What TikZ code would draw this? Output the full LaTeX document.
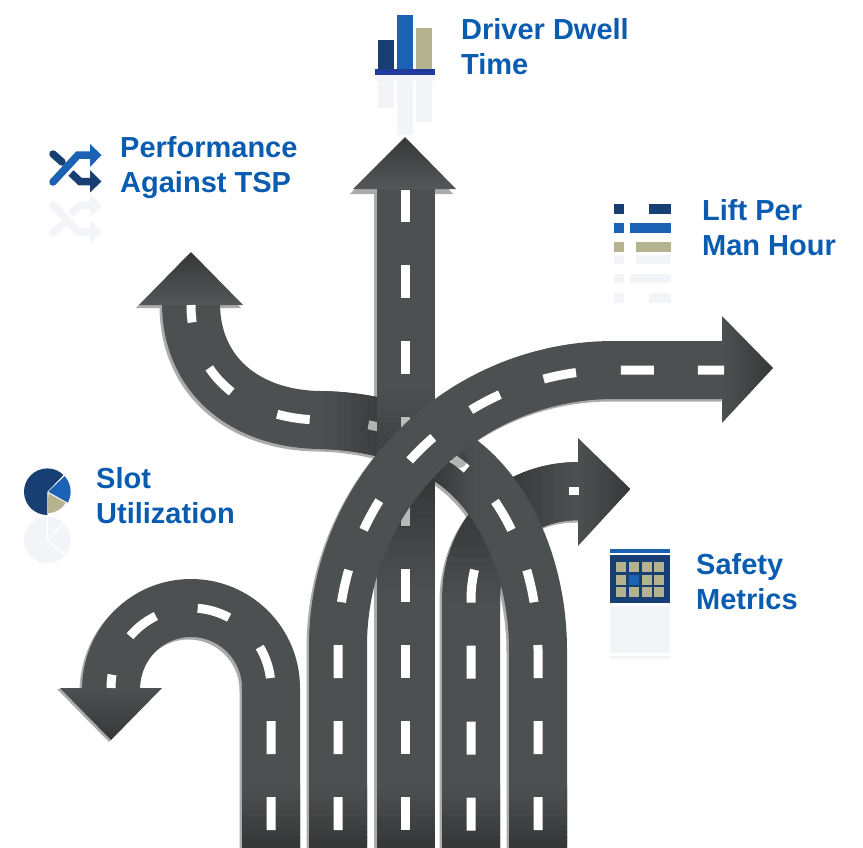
\documentclass[tikz,border=0pt]{standalone}
\usepackage{fontspec}
\setmainfont{Liberation Sans}
\definecolor{roadc}{HTML}{4D5051}
\definecolor{darkc}{HTML}{363838}
\definecolor{edgec}{HTML}{ABABAB}
\definecolor{navyc}{HTML}{173F73}
\definecolor{bluec}{HTML}{1B62B4}
\definecolor{khakic}{HTML}{B5B28F}
\definecolor{basec}{HTML}{1F3C9C}
\definecolor{ghostc}{HTML}{F3F4F8}
\definecolor{textc}{HTML}{0A5CB0}
\tikzset{
  road/.style={line width=58pt,draw=roadc},
  roadedge/.style={line width=58pt,draw=edgec,shift={(-2.5,2.5)}},
  lane/.style={line width=9pt,draw=white},
  label/.style={anchor=north west,inner sep=0pt,align=left,text=textc,font=\fontsize{29}{35}\selectfont\bfseries}
}
% paths
\def\Rpath{(471,860) -- (471,600) .. controls (471,540) and (510,491) .. (580,491)}
\def\Upath{(271,860) -- (271,688) .. controls (271,643.8) and (235.2,608) .. (191,608) .. controls (146.8,608) and (111,643.8) .. (111,690)}
\def\Spath{(538,860) -- (538,650) .. controls (538,570) and (505,495) .. (455,460) .. controls (420,436) and (375,421) .. (320,420) .. controls (245,419) and (191,375) .. (191,303)}
\def\Vpath{(405.5,860) -- (405.5,187)}
\def\Bpath{(338,860) -- (338,646) .. controls (338,493.6) and (461.6,370) .. (614,370) -- (724,370)}
% gradient along x or y by stacked clipped strokes
\newcommand{\xbands}[5]{\foreach \i in {0,...,11}{%
  \pgfmathsetmacro\xa{#2+(#3-#2)*\i/12}\pgfmathsetmacro\xb{#2+(#3-#2)*(\i+1)/12+0.6}\pgfmathsetmacro\pct{100*\i/11}%
  \begin{scope}\clip (\xa,0) rectangle (\xb,847);\draw[road,draw={#5!\pct!#4}] #1;\end{scope}}}
\newcommand{\ybands}[7]{\foreach \i in {0,...,11}{%
  \pgfmathsetmacro\ya{#2+(#3-#2)*\i/12}\pgfmathsetmacro\yb{#2+(#3-#2)*(\i+1)/12+0.6}\pgfmathsetmacro\pct{100*\i/11}%
  \begin{scope}\clip (#6,\ya) rectangle (#7,\yb);\draw[road,draw={#5!\pct!#4}] #1;\end{scope}}}
\newcommand{\shuffleicon}[2]{%
  \draw[#1,line width=7.5pt,line cap=round] (53,154) -- (62,162);
  \draw[#2,line width=7.5pt,line cap=round] (53,182) -- (78,155) -- (91,155);
  \fill[#2] (90,144) -- (101.5,155) -- (90,167) -- cycle;
  \draw[#1,line width=7.5pt] (71,173) -- (80,181.5) -- (91,181.5);
  \fill[#1] (90,170) -- (101.5,181.5) -- (90,192.5) -- cycle;}
\begin{document}
\begin{tikzpicture}[x=1pt,y=-1pt]
\useasboundingbox (0,0) rectangle (863,847);
\clip (0,0) rectangle (863,847);
\fill[white] (0,0) rectangle (863,847);

% edge highlights, all under the roads
\draw[roadedge] \Rpath;
\draw[roadedge] \Upath;
\draw[roadedge] \Spath;
\draw[roadedge] \Vpath;
\draw[roadedge] \Bpath;
\fill[edgec] (57,689) -- (160,689) -- (109,742) -- cycle;
\fill[edgec] (136,308) -- (241,308) -- (189,254) -- cycle;
\fill[edgec] (350,194) -- (453,194) -- (403,140) -- cycle;

% short right arrow
\draw[road] \Rpath;
\ybands{\Rpath}{505}{610}{darkc}{roadc}{443}{500}
\xbands{\Rpath}{505}{578}{darkc}{roadc}
\ybands{\Rpath}{785}{847}{roadc}{darkc}{0}{863}
\shade[left color=roadc,right color=darkc] (578,438) -- (630.5,489) -- (578,546) -- cycle;
\draw[lane,dash pattern=on 33pt off 43pt,dash phase=59.5pt] (471,847) -- (471,600) .. controls (471,570) and (480.75,542.75) .. (499.25,523);
\fill[white] (569,487) rectangle (579,495);

% U road
\draw[road] \Upath;
\ybands{\Upath}{785}{847}{roadc}{darkc}{0}{863}
\shade[top color=roadc,bottom color=darkc] (60,688) -- (162,688) -- (111,740) -- cycle;
\draw[lane,dash pattern=on 33pt off 43pt,dash phase=59pt] (271,847) -- (271,688) .. controls (271,643.8) and (235.2,608) .. (191,608) .. controls (146.8,608) and (111,643.8) .. (111,688);

% S road with left arrow
\draw[road] \Spath;
\xbands{\Spath}{320}{378}{roadc}{darkc!70!roadc}
\xbands{\Spath}{432}{478}{darkc}{roadc}
\ybands{\Spath}{785}{847}{roadc}{darkc}{0}{863}
\shade[top color=darkc,bottom color=roadc!96!white] (139,305) -- (243,305) -- (191,252) -- cycle;
\draw[lane,dash pattern=on 33pt off 43pt on 33pt off 43pt on 33pt off 43pt on 33pt off 43pt on 33pt off 43pt on 33pt off 43pt on 33pt off 43pt on 33pt off 59pt on 33pt off 51pt on 33pt off 49pt on 33pt off 43pt,dash phase=59pt] (538,847) -- (538,650) .. controls (538,570) and (505,495) .. (455,460) .. controls (420,436) and (375,421) .. (320,420) .. controls (245,419) and (191,375) .. (191,305);
% dashes dimmed where they run under the crossing roads
\fill[darkc!60!roadc,fill opacity=.4] (459,460) circle (8);
\fill[darkc!70!roadc,fill opacity=.4] (360,414) rectangle (378,434);

% vertical road with up arrow
\draw[road] \Vpath;
\ybands{\Vpath}{478}{600}{darkc}{roadc}{0}{863}
\ybands{\Vpath}{785}{847}{roadc}{darkc}{0}{863}
\ybands{\Vpath}{385}{450}{roadc}{darkc!60!roadc}{0}{863}
\shade[top color=darkc,bottom color=roadc!96!white] (353,189) -- (456,189) -- (405,137) -- cycle;
\draw[lane,dash pattern=on 33pt off 43pt,dash phase=59pt] (405,847) -- (405,190);
\fill[darkc!60!roadc,fill opacity=.35] (400,416) rectangle (410,452);
\fill[darkc,fill opacity=.35] (400,490) rectangle (410,528);

% big road with right arrow
\draw[road] \Bpath;
\ybands{\Bpath}{785}{847}{roadc}{darkc}{0}{863}
\shade[left color=roadc,right color=darkc] (722,316) -- (773,368) -- (722,423) -- cycle;
\draw[lane,dash pattern=on 33pt off 43pt on 33pt off 43pt on 33pt off 43pt on 33pt off 43pt on 33pt off 43pt on 33pt off 50.5pt on 33pt off 46.5pt on 33pt off 46.5pt on 33pt off 45pt on 33pt off 44pt on 33pt off 43pt,dash phase=59pt] (338,847) -- (338,646) .. controls (338,493.6) and (461.6,370) .. (614,370) -- (724,370);

% bar chart icon
\fill[navyc] (378,40) rectangle (394,69);
\fill[bluec] (397,15) rectangle (413,69);
\fill[khakic] (416,28) rectangle (432,69);
\fill[basec] (375,69) rectangle (435,75);
\fill[ghostc] (375,75) rectangle (435,81);
\fill[ghostc] (378,81) rectangle (394,108);
\fill[ghostc] (397,81) rectangle (413,135);
\fill[ghostc] (416,81) rectangle (432,122);

% list icon
\fill[navyc] (614,204) rectangle (624,214);
\fill[navyc] (649,204) rectangle (671,214);
\fill[bluec] (614,223) rectangle (624,233);
\fill[bluec] (630,223) rectangle (671,233);
\fill[khakic] (614,242) rectangle (624,252);
\fill[khakic] (636,242) rectangle (671,252);
\fill[ghostc] (614,255) rectangle (624,264);
\fill[ghostc] (636,255) rectangle (671,264);
\fill[ghostc] (614,274) rectangle (624,283);
\fill[ghostc] (630,274) rectangle (671,283);
\fill[ghostc] (614,293) rectangle (624,303);
\fill[ghostc] (649,293) rectangle (671,303);

% calendar icon
\fill[bluec] (610,549) rectangle (670,553);
\fill[navyc] (610,555) rectangle (670,603);
\foreach \cx in {616,629,642,654}{\foreach \cy in {562,574.5,587}{\fill[khakic] (\cx,\cy) rectangle (\cx+10,\cy+10);}}
\fill[bluec] (629,574.5) rectangle (639,584.5);
\fill[ghostc] (610,606) rectangle (670,653);
\fill[ghostc] (610,656) rectangle (670,659);

% pie icon
\begin{scope}[shift={(47.3,491.7)},x=1pt,y=1pt]
\fill[navyc] (0,0) -- (46:23.3) arc (46:270:23.3) -- cycle;
\fill[bluec] (1,0) -- (42:23.3) arc (42:-28:23.3) -- cycle;
\fill[khakic] (1,-1.5) -- (-31:21.5) arc (-31:-88:21.5) -- cycle;
\end{scope}
\begin{scope}[shift={(47.3,540)},x=1pt,y=1pt]
\fill[ghostc] (0,0) circle (23.3);
\draw[white,line width=1.2pt] (0,24) -- (0,0) -- (46:24);
\draw[white,line width=1.2pt] (0,0) -- (-40:24);
\end{scope}

% shuffle icon
\shuffleicon{navyc}{bluec}
\begin{scope}[shift={(0,387)},yscale=-1]
\shuffleicon{ghostc}{ghostc}
\end{scope}

% labels
\node[label] (dwell) at (461,18.5) {Driver Dwell\\Time};
\node[label] (tsp) at (120,136.5) {Performance\\Against TSP};
\node[label] (lift) at (702,199.5) {Lift Per\\Man Hour};
\node[label] (slot) at (96,467.5) {Slot\\Utilization};
\node[label] (safety) at (696,553.5) {Safety\\Metrics};
\end{tikzpicture}
\end{document}
